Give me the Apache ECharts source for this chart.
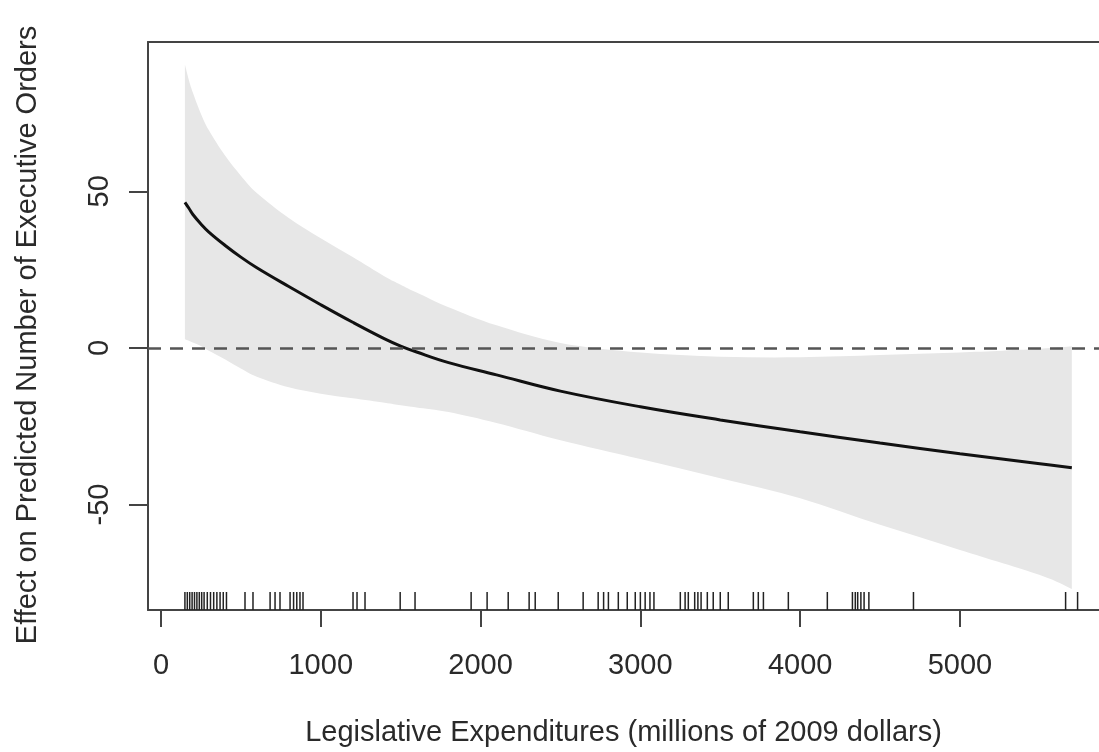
<!DOCTYPE html>
<html><head><meta charset="utf-8">
<script src="https://cdn.jsdelivr.net/npm/echarts@6/dist/echarts.min.js"></script>
<style>html,body{margin:0;padding:0;background:#fff;overflow:hidden}#c{width:1099px;height:752px}</style>
</head><body><div id="c"></div>
<script>
// ---- data ----
const xValues     = [150, 175, 200, 250, 300, 400, 500, 600, 800, 1000, 1200, 1400, 1500, 1600, 1800, 2100, 2500, 3000, 3500, 4000, 4500, 5000, 5500, 5700];
const fitValues   = [46.5, 44.6, 42.6, 39.6, 37, 32.8, 29, 25.6, 19.6, 13.8, 8.2, 2.9, 0.6, -1.3, -4.7, -8.6, -13.8, -18.8, -23, -26.8, -30.4, -33.8, -37, -38.3];
const upperValues = [90.5, 85.5, 81.5, 74.8, 69.5, 61.5, 55, 49.5, 41.5, 35, 29, 22.8, 20.2, 17.7, 13, 7.2, 1.6, -1.5, -2.8, -3, -2.3, -1.5, -0.3, 0.5];
const lowerValues = [2.8, 2.3, 1.7, 0.6, -0.9, -3.6, -6.6, -9.2, -12.6, -14.6, -16.1, -17.5, -18.3, -19, -20.5, -24, -29.5, -35.5, -41.6, -48, -56.5, -64.5, -72.5, -77];
const rugValues   = [150, 165, 180, 195, 210, 225, 240, 255, 270, 290, 310, 330, 350, 370, 390, 410,
                     526, 576, 683, 714, 745, 808, 830, 850, 870, 889, 1202, 1227, 1277, 1497, 1590,
                     1941, 2041, 2173, 2304, 2342, 2486, 2642, 2736, 2770, 2800, 2862, 2918, 2968, 3000, 3030, 3060, 3085,
                     3250, 3280, 3300, 3340, 3360, 3380, 3419, 3456, 3500, 3550, 3707, 3738, 3770, 3926, 4170,
                     4327, 4345, 4360, 4380, 4400, 4430, 4709, 5661, 5736];
const xTicks = [0, 1000, 2000, 3000, 4000, 5000];
const yTicks = [-50, 0, 50];
const xTitle = 'Legislative Expenditures (millions of 2009 dollars)';
const yTitle = 'Effect on Predicted Number of Executive Orders';
const xMin = -81, xMax = 5870, yMin = -83.7, yMax = 97.7;

const FONT = '"Liberation Sans", Arial, sans-serif';
const TXT = '#2a2a2a';
const AX = {color: '#444', width: 2};
const chart = echarts.init(document.getElementById('c'), null, {renderer: 'canvas'});

// Catmull-Rom smoothing of already-projected pixel points into cubic bezier path commands
function smoothPath(pts) {
  let d = '';
  for (let i = 0; i < pts.length - 1; i++) {
    const p0 = pts[Math.max(i - 1, 0)], p1 = pts[i], p2 = pts[i + 1], p3 = pts[Math.min(i + 2, pts.length - 1)];
    const c1 = [p1[0] + (p2[0] - p0[0]) / 6, p1[1] + (p2[1] - p0[1]) / 6];
    const c2 = [p2[0] - (p3[0] - p1[0]) / 6, p2[1] - (p3[1] - p1[1]) / 6];
    d += ' C' + c1[0] + ' ' + c1[1] + ' ' + c2[0] + ' ' + c2[1] + ' ' + p2[0] + ' ' + p2[1];
  }
  return d;
}

const option = {
  animation: false,
  grid: {left: 148, top: 42, right: 0, bottom: 142, show: false},
  xAxis: [{
    type: 'value', min: xMin, max: xMax, position: 'bottom',
    splitLine: {show: false}, axisLine: {show: true, onZero: false, lineStyle: AX},
    axisTick: {show: true, customValues: xTicks, length: 17, lineStyle: AX},
    axisLabel: {customValues: xTicks, formatter: v => String(v), fontSize: 29, fontFamily: FONT, color: TXT, margin: 41},
    name: xTitle, nameLocation: 'middle', nameGap: 108,
    nameTextStyle: {fontSize: 29, fontFamily: FONT, color: TXT}
  }, {
    type: 'value', min: xMin, max: xMax, position: 'top',
    splitLine: {show: false}, axisLine: {show: true, onZero: false, lineStyle: AX},
    axisTick: {show: false}, axisLabel: {show: false}
  }],
  yAxis: {
    type: 'value', min: yMin, max: yMax,
    splitLine: {show: false}, axisLine: {show: true, onZero: false, lineStyle: AX},
    axisTick: {show: true, customValues: yTicks, length: 19, lineStyle: AX},
    axisLabel: {customValues: yTicks, formatter: v => String(v), rotate: 90, fontSize: 29, fontFamily: FONT, color: TXT, margin: 34},
    name: yTitle, nameLocation: 'middle', nameGap: 106, nameRotate: 90,
    nameTextStyle: {fontSize: 29, fontFamily: FONT, color: TXT, padding: [0, 18, 0, 0]}
  },
  series: [
    {
      type: 'custom', silent: true, clip: true, z: 1,
      data: [[xValues[0], upperValues[0]]],
      renderItem: function (params, api) {
        const up = xValues.map((x, i) => api.coord([x, upperValues[i]]));
        const lo = xValues.map((x, i) => api.coord([x, lowerValues[i]])).reverse();
        const d = 'M' + up[0][0] + ' ' + up[0][1] + smoothPath(up) +
                  ' L' + lo[0][0] + ' ' + lo[0][1] + smoothPath(lo) + ' Z';
        return {type: 'path', shape: {pathData: d}, style: {fill: '#e7e7e7', stroke: null}};
      }
    },
    {
      type: 'line', silent: true, z: 3, symbol: 'none', smooth: 0.4,
      data: xValues.map((x, i) => [x, fitValues[i]]),
      lineStyle: {color: '#111', width: 3},
      markLine: {
        silent: true, symbol: ['none', 'none'], label: {show: false},
        lineStyle: {color: '#555', type: [13, 9], width: 2.5},
        data: [{yAxis: 0}]
      }
    },
    {
      type: 'custom', silent: true, z: 2,
      data: rugValues.map(v => [v]),
      encode: {x: 0},
      renderItem: function (params, api) {
        const p = api.coord([api.value(0), yMin]);
        return {type: 'line', shape: {x1: p[0], y1: p[1], x2: p[0], y2: p[1] - 18}, style: {stroke: '#222', lineWidth: 1.5}};
      }
    }
  ]
};
chart.setOption(option);
</script></body></html>
